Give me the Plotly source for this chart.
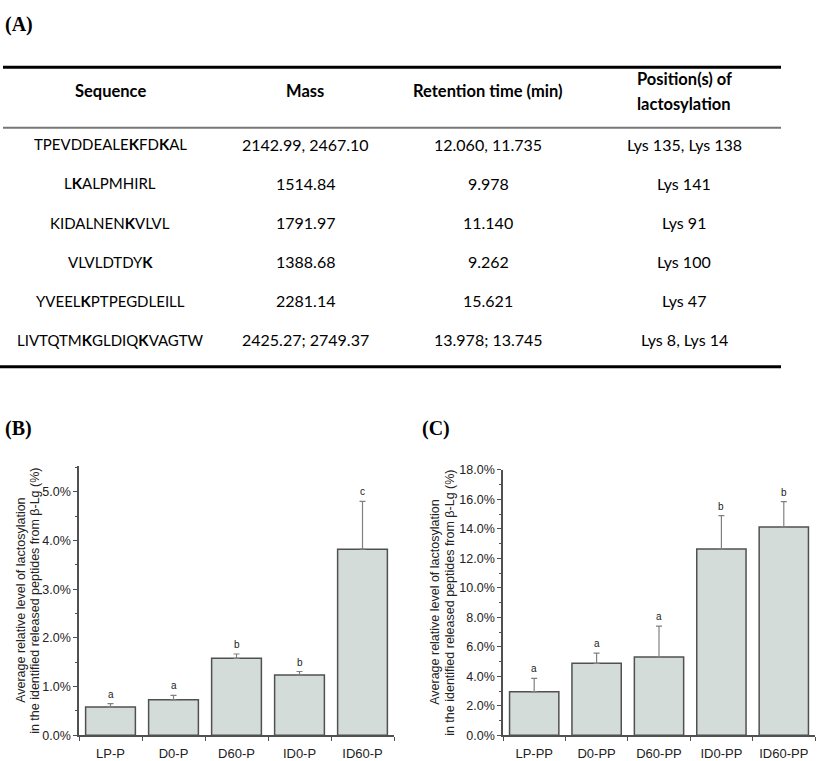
import plotly.graph_objects as go

W, H = 817, 761

# ---------------- data ----------------
table_headers = ["Sequence", "Mass", "Retention time (min)", "Position(s) of<br>lactosylation"]
sequences = ["TPEVDDEALE<b>K</b>FD<b>K</b>AL", "L<b>K</b>ALPMHIRL", "KIDALNEN<b>K</b>VLVL",
             "VLVLDTDY<b>K</b>", "YVEEL<b>K</b>PTPEGDLEILL", "LIVTQTM<b>K</b>GLDIQ<b>K</b>VAGTW"]
masses = ["2142.99, 2467.10", "1514.84", "1791.97", "1388.68", "2281.14", "2425.27; 2749.37"]
retention = ["12.060, 11.735", "9.978", "11.140", "9.262", "15.621", "13.978; 13.745"]
positions = ["Lys 135, Lys 138", "Lys 141", "Lys 91", "Lys 100", "Lys 47", "Lys 8, Lys 14"]

groups_b = ["LP-P", "D0-P", "D60-P", "ID0-P", "ID60-P"]
values_b = [0.58, 0.73, 1.58, 1.24, 3.82]
errors_b = [0.07, 0.09, 0.09, 0.07, 0.98]
letters_b = ["a", "a", "b", "b", "c"]

groups_c = ["LP-PP", "D0-PP", "D60-PP", "ID0-PP", "ID60-PP"]
values_c = [2.95, 4.88, 5.31, 12.63, 14.13]
errors_c = [0.91, 0.69, 2.10, 2.26, 1.72]
letters_c = ["a", "a", "a", "b", "b"]

ytitle_1 = "Average relative level of lactosylation"
ytitle_2 = "in the identified released peptides from β-Lg (%)"


def px(x):
    return x / W


def py(y):
    return 1 - y / H


TABLE_FONT = "Lato, Open Sans, sans-serif"
CHART_FONT = "Liberation Sans, Arial, sans-serif"
SERIF = "Liberation Serif, Times New Roman, serif"
BAR_FILL = "#d3dcd9"
BAR_LINE = "#505050"
AX = "#505050"

fig = go.Figure()

# ---------------- bar charts ----------------
for g, v, e, xa, ya in [(groups_b, values_b, errors_b, "x", "y"),
                        (groups_c, values_c, errors_c, "x2", "y2")]:
    fig.add_trace(go.Bar(
        x=g, y=v, xaxis=xa, yaxis=ya, width=0.79,
        marker=dict(color=BAR_FILL, line=dict(color=BAR_LINE, width=1.5)),
        error_y=dict(type="data", array=e, arrayminus=[0] * len(e), symmetric=False,
                     color="#808080", thickness=1.2, width=3),
        showlegend=False, hoverinfo="skip"))

annotations = []
for g, v, e, L, xr, yr in [(groups_b, values_b, errors_b, letters_b, "x", "y"),
                           (groups_c, values_c, errors_c, letters_c, "x2", "y2")]:
    for gi, vi, ei, li in zip(g, v, e, L):
        annotations.append(dict(x=gi, y=vi + ei, xref=xr, yref=yr, text=li, showarrow=False,
                                yanchor="bottom", yshift=2,
                                font=dict(family=CHART_FONT, size=10, color="#222")))

common_x = dict(range=[-0.5, 4.5], showline=True, linecolor=AX, linewidth=1.5, ticks="outside",
                tickson="boundaries", ticklen=4, tickcolor=AX, tickwidth=1, showgrid=False,
                zeroline=False, ticklabelstandoff=5,
                tickfont=dict(family=CHART_FONT, size=13, color="#222"), fixedrange=True)
common_y = dict(showline=True, linecolor=AX, linewidth=1.5, ticks="outside", ticklen=4,
                tickcolor=AX, tickwidth=1, showgrid=False, zeroline=False, tickformat=".1f",
                ticksuffix="%", tickfont=dict(family=CHART_FONT, size=12.5, color="#222"),
                fixedrange=True)

fig.update_layout(
    xaxis=dict(domain=[px(79), px(394)], anchor="y", **common_x),
    yaxis=dict(domain=[py(742), py(468)], anchor="x", range=[0, 5.52], dtick=1,
               minor=dict(dtick=0.5, ticks="outside", ticklen=2.5, tickcolor=AX), **common_y),
    xaxis2=dict(domain=[px(503), px(815)], anchor="y2", **common_x),
    yaxis2=dict(domain=[py(742), py(471.5)], anchor="x2", range=[0, 18], dtick=2,
                minor=dict(dtick=1, ticks="outside", ticklen=2.5, tickcolor=AX), **common_y),
)

# y-axis titles
for (x1, x2, yc) in [(21, 35, 605), (435, 450, 607)]:
    for xx, t in [(x1, ytitle_1), (x2, ytitle_2)]:
        annotations.append(dict(x=px(xx), y=py(yc), xref="paper", yref="paper", text=t,
                                textangle=-90, showarrow=False, xanchor="center", yanchor="middle",
                                font=dict(family=CHART_FONT, size=12.5, color="#222")))

# panel labels
for lab, xx, yy in [("(A)", 3, 18), ("(B)", 3, 429), ("(C)", 420, 429)]:
    annotations.append(dict(x=px(xx), y=py(yy), xref="paper", yref="paper", text="<b>" + lab + "</b>",
                            showarrow=False, xanchor="left", yanchor="middle",
                            font=dict(family=SERIF, size=20, color="#000")))

# ---------------- table ----------------
col_x = [110, 305, 488, 684]
col_size = [15, 16, 16, 16]
header_y = 86
row_y0, row_dy = 140, 39.8
columns = [sequences, masses, retention, positions]
for ci, hdr in enumerate(table_headers):
    lines = hdr.split("<br>")
    n = len(lines)
    for li, t in enumerate(lines):
        yy = header_y + (li - (n - 1) / 2) * 25
        annotations.append(dict(x=px(col_x[ci]), y=py(yy), xref="paper", yref="paper",
                                text="<b>" + t + "</b>", showarrow=False, xanchor="center",
                                yanchor="middle", font=dict(family=TABLE_FONT, size=16.5, color="#000")))
for ci, col in enumerate(columns):
    for ri, t in enumerate(col):
        annotations.append(dict(x=px(col_x[ci]), y=py(row_y0 + ri * row_dy), xref="paper", yref="paper",
                                text=t, showarrow=False, xanchor="center", yanchor="middle",
                                font=dict(family=TABLE_FONT, size=col_size[ci], color="#000")))

shapes = [
    dict(type="line", xref="paper", yref="paper", x0=px(3), x1=px(781), y0=py(61.5), y1=py(61.5),
         line=dict(color="#000", width=3)),
    dict(type="line", xref="paper", yref="paper", x0=px(3), x1=px(781), y0=py(123), y1=py(123),
         line=dict(color="#777", width=2)),
    dict(type="line", xref="paper", yref="paper", x0=px(0), x1=px(781), y0=py(366.5), y1=py(366.5),
         line=dict(color="#000", width=3)),
]

fig.update_layout(
    width=W, height=H, margin=dict(l=0, r=0, t=0, b=0),
    paper_bgcolor="white", plot_bgcolor="white",
    annotations=annotations, shapes=shapes, bargap=0.21,
)

fig.write_html("out.html", config={"displayModeBar": False},
               post_script="document.body.style.margin='0';document.body.style.overflow='hidden';")
